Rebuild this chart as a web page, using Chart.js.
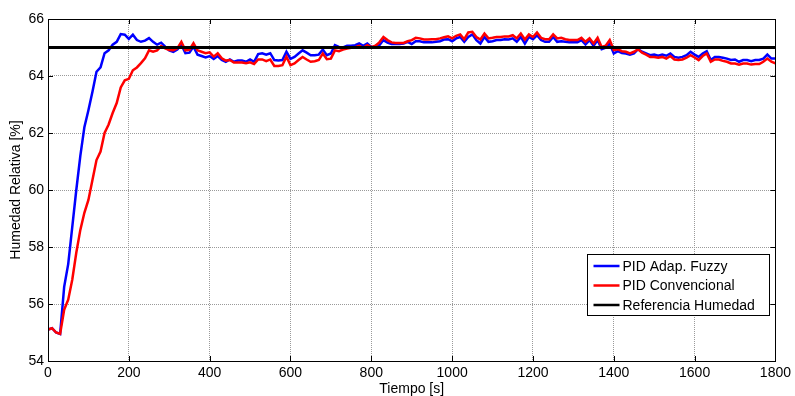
<!DOCTYPE html>
<html>
<head>
<meta charset="utf-8">
<script src="https://cdn.jsdelivr.net/npm/chart.js@4.4.1/dist/chart.umd.min.js"></script>
<style>
  html, body { margin: 0; padding: 0; background: #fff; }
  canvas { display: block; }
</style>
</head>
<body>
<canvas id="grafico" width="795" height="396"></canvas>
<script>
// muestras cada 10 s, de 0 a 1800 s
var paso = 10;

var humedadFuzzy = [
  55.1, 55.15, 55.0, 54.95, 56.6, 57.4, 58.7, 60.0, 61.2, 62.2,
  62.8, 63.45, 64.15, 64.3, 64.8, 64.9, 65.1, 65.2, 65.47, 65.45,
  65.3, 65.45, 65.26, 65.2, 65.24, 65.33, 65.2, 65.1, 65.17, 65.03,
  64.9, 64.85, 64.93, 65.1, 64.8, 64.82, 65.03, 64.75, 64.7, 64.65,
  64.7, 64.6, 64.7, 64.56, 64.5, 64.58, 64.5, 64.54, 64.54, 64.5,
  64.58, 64.5, 64.77, 64.8, 64.75, 64.8, 64.56, 64.54, 64.56, 64.85,
  64.6, 64.67, 64.79, 64.9, 64.82, 64.73, 64.73, 64.75, 64.93, 64.73,
  64.79, 65.08, 65.02, 65.0, 65.06, 65.06, 65.08, 65.14, 65.06, 65.14,
  65.02, 65.02, 65.08, 65.26, 65.17, 65.12, 65.12, 65.12, 65.14, 65.2,
  65.12, 65.22, 65.22, 65.18, 65.18, 65.18, 65.2, 65.22, 65.28, 65.29,
  65.22, 65.32, 65.37, 65.2, 65.37, 65.46, 65.26, 65.14, 65.37, 65.2,
  65.22, 65.26, 65.26, 65.29, 65.28, 65.32, 65.2, 65.37, 65.14, 65.37,
  65.29, 65.43, 65.26, 65.2, 65.2, 65.37, 65.2, 65.22, 65.2, 65.18,
  65.18, 65.18, 65.26, 65.11, 65.26, 65.06, 65.26, 64.94, 64.99, 65.14,
  64.79, 64.87, 64.81, 64.79, 64.75, 64.79, 64.94, 64.85, 64.79, 64.73,
  64.75, 64.71, 64.75, 64.71, 64.79, 64.67, 64.64, 64.67, 64.73, 64.85,
  64.75, 64.67, 64.79, 64.87, 64.56, 64.67, 64.67, 64.64, 64.61, 64.56,
  64.58, 64.5, 64.56, 64.56, 64.52, 64.56, 64.56, 64.61, 64.75, 64.61,
  64.61
];

var humedadPID = [
  55.1, 55.15, 55.0, 54.95, 55.8, 56.15, 56.85, 57.8, 58.6, 59.2,
  59.65, 60.35, 61.05, 61.35, 62.0, 62.3, 62.7, 63.05, 63.6, 63.85,
  63.9, 64.2, 64.3, 64.45, 64.62, 64.9, 64.85, 64.9, 65.05, 64.97,
  64.91, 64.9, 64.97, 65.2, 64.9, 64.92, 65.15, 64.9, 64.85, 64.8,
  64.83, 64.68, 64.8, 64.62, 64.54, 64.56, 64.47, 64.47, 64.47, 64.45,
  64.48, 64.42, 64.58, 64.58, 64.52, 64.58, 64.35, 64.35, 64.38, 64.68,
  64.38, 64.44, 64.56, 64.67, 64.58, 64.5, 64.52, 64.56, 64.79, 64.59,
  64.61, 64.9, 64.87, 64.93, 64.96, 64.99, 65.01, 65.06, 64.99, 65.08,
  65.01, 65.06, 65.18, 65.37, 65.26, 65.18, 65.16, 65.16, 65.16, 65.22,
  65.26, 65.34, 65.32, 65.28, 65.28, 65.29, 65.29, 65.32, 65.36, 65.39,
  65.32, 65.41, 65.46, 65.29, 65.53, 65.55, 65.37, 65.28, 65.49, 65.32,
  65.34, 65.37, 65.37, 65.39, 65.39, 65.43, 65.32, 65.49, 65.28, 65.46,
  65.37, 65.53, 65.34, 65.29, 65.29, 65.46, 65.32, 65.34, 65.29, 65.26,
  65.26, 65.26, 65.34, 65.2, 65.32, 65.14, 65.34, 65.02, 65.06, 65.26,
  64.91, 64.94, 64.87, 64.85, 64.79, 64.85, 64.94, 64.82, 64.75, 64.67,
  64.67, 64.64, 64.67, 64.61, 64.7, 64.58, 64.56, 64.58, 64.64, 64.73,
  64.65, 64.56, 64.7, 64.79, 64.5, 64.58, 64.58, 64.53, 64.5, 64.44,
  64.44, 64.4, 64.44, 64.44, 64.4, 64.42, 64.42, 64.5, 64.61, 64.5,
  64.44
];

var refTiempo = [0, 1800];
var refHumedad = [65, 65];

var xTicks = [0, 200, 400, 600, 800, 1000, 1200, 1400, 1600, 1800];
var yTicks = [54, 56, 58, 60, 62, 64, 66];

var etiquetas = ['PID Adap. Fuzzy', 'PID Convencional', 'Referencia Humedad'];

function puntos(valores) {
  return valores.map(function (v, i) { return { x: i * paso, y: v }; });
}

var fuente = { family: '"Liberation Sans", Arial, sans-serif', size: 14 };
var fuenteTitulo = { family: '"Liberation Sans", Arial, sans-serif', size: 14, lineHeight: 1 };

// marco negro, marcas hacia dentro y leyenda estilo MATLAB
var marcoMatlab = {
  id: 'marcoMatlab',
  afterDraw: function (chart) {
    var ctx = chart.ctx;
    var a = chart.chartArea;
    var sx = chart.scales.x, sy = chart.scales.y;
    ctx.save();
    ctx.strokeStyle = '#000';
    ctx.lineWidth = 1;
    ctx.beginPath();
    xTicks.forEach(function (t) {
      var px = Math.round(sx.getPixelForValue(t)) + 0.5;
      ctx.moveTo(px, a.bottom); ctx.lineTo(px, a.bottom - 5);
      ctx.moveTo(px, a.top); ctx.lineTo(px, a.top + 5);
    });
    yTicks.forEach(function (t) {
      var py = Math.round(sy.getPixelForValue(t)) + 0.5;
      ctx.moveTo(a.left, py); ctx.lineTo(a.left + 5, py);
      ctx.moveTo(a.right, py); ctx.lineTo(a.right - 5, py);
    });
    ctx.stroke();
    ctx.strokeRect(Math.round(a.left) + 0.5, Math.round(a.top) + 0.5,
      Math.round(a.right - a.left), Math.round(a.bottom - a.top));

    // leyenda
    var lx = 587.5, ly = 254.5, lw = 182, lh = 61;
    ctx.fillStyle = '#fff';
    ctx.fillRect(lx, ly, lw, lh);
    ctx.strokeRect(lx, ly, lw, lh);
    ctx.font = '14px ' + fuente.family;
    ctx.textBaseline = 'middle';
    ctx.textAlign = 'left';
    chart.data.datasets.forEach(function (ds, i) {
      var y = ly + 11.5 + i * 19.5;
      ctx.strokeStyle = ds.borderColor;
      ctx.lineWidth = 2.5;
      ctx.beginPath();
      ctx.moveTo(lx + 6, y); ctx.lineTo(lx + 32, y);
      ctx.stroke();
      ctx.fillStyle = '#000';
      ctx.fillText(etiquetas[i], lx + 35, y + 1);
    });
    ctx.restore();
  }
};

new Chart(document.getElementById('grafico'), {
  type: 'line',
  data: {
    datasets: [
      {
        label: etiquetas[0],
        data: puntos(humedadFuzzy),
        borderColor: '#0000ff',
        borderWidth: 2.5,
        pointRadius: 0,
        tension: 0,
        order: 2
      },
      {
        label: etiquetas[1],
        data: puntos(humedadPID),
        borderColor: '#ff0000',
        borderWidth: 2.5,
        pointRadius: 0,
        tension: 0,
        order: 1
      },
      {
        label: etiquetas[2],
        data: refTiempo.map(function (t, i) { return { x: t, y: refHumedad[i] }; }),
        borderColor: '#000000',
        borderWidth: 3,
        pointRadius: 0,
        order: 0
      }
    ]
  },
  options: {
    responsive: false,
    animation: false,
    layout: { padding: { top: 19, right: 18, left: 0, bottom: 0 } },
    plugins: {
      legend: { display: false },
      tooltip: { enabled: false }
    },
    scales: {
      x: {
        type: 'linear',
        min: 0,
        max: 1800,
        afterBuildTicks: function (scale) {
          scale.ticks = xTicks.map(function (v) { return { value: v }; });
        },
        afterFit: function (scale) { scale.height = 35; },
        grid: { color: '#9a9a9a', drawTicks: false, lineWidth: 1 },
        border: { display: false, dash: [1, 1] },
        ticks: {
          color: '#000', font: fuente, padding: 4, maxRotation: 0,
          callback: function (v) { return String(v); }
        },
        title: {
          display: true,
          text: 'Tiempo [s]',
          color: '#000',
          font: fuenteTitulo,
          padding: { top: 0, bottom: 0 }
        }
      },
      y: {
        min: 54,
        max: 66,
        afterBuildTicks: function (scale) {
          scale.ticks = yTicks.map(function (v) { return { value: v }; });
        },
        afterFit: function (scale) { scale.width = 48; },
        grid: { color: '#9a9a9a', drawTicks: false, lineWidth: 1 },
        border: { display: false, dash: [1, 1] },
        ticks: {
          color: '#000', font: fuente, padding: 4,
          callback: function (v) { return String(v); }
        },
        title: {
          display: true,
          text: 'Humedad Relativa [%]',
          color: '#000',
          font: fuenteTitulo,
          padding: { top: 9, bottom: 0 }
        }
      }
    }
  },
  plugins: [marcoMatlab]
});
</script>
</body>
</html>
